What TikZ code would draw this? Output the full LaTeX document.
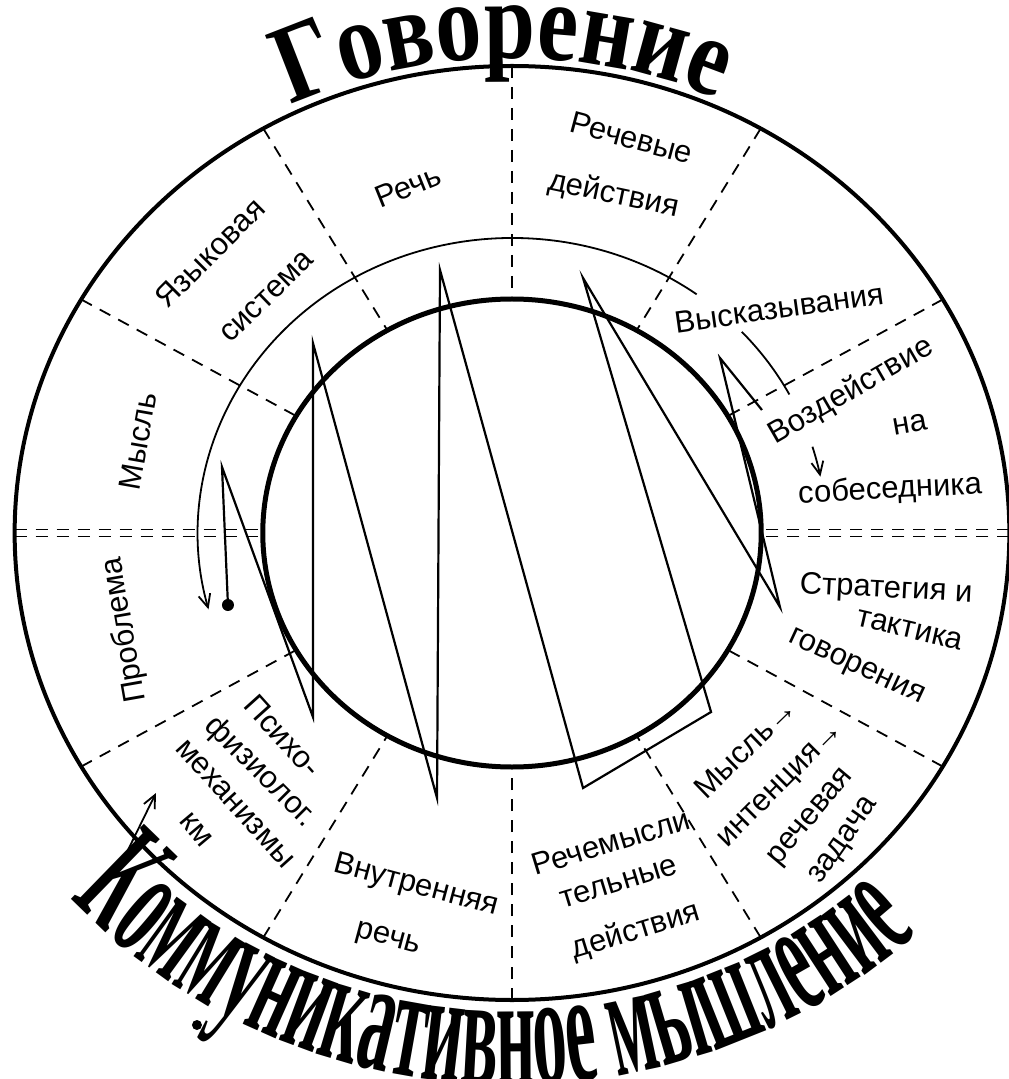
\documentclass[tikz,border=0pt]{standalone}
\usepackage{fontspec}
\setmainfont{Liberation Sans}
\newfontfamily\headfont{Liberation Serif}[FakeStretch=0.82]
\newfontfamily\footfont{Liberation Serif}[FakeStretch=0.43]
\usetikzlibrary{decorations.text,arrows.meta}
\newcommand\govfont{\fontsize{112}{112}\selectfont\headfont\bfseries}
\newcommand\kommfont{\fontsize{160}{160}\selectfont\footfont\bfseries}

\begin{document}
\begin{tikzpicture}[x=1.065pt,y=1pt,
  lbl/.style={font=\fontsize{31}{31}\selectfont,inner sep=0pt},
  divider/.style={line width=1.8pt,dash pattern=on 12pt off 9pt},
  ringline/.style={line width=1.8pt},
  zigline/.style={line width=2.2pt},
  >={Straight Barb[length=13pt,width=12pt]}]
\useasboundingbox (-512pt,-546pt) rectangle (497pt,533pt);
% rings
\draw[line width=4pt] (0,0) circle[radius=467];
\draw[line width=5pt] (0,0) circle[radius=234];
\draw[ringline,->] (54:295) arc[start angle=54,end angle=195,radius=295];
\draw[ringline] (43:295) arc[start angle=43,end angle=28,radius=295];
\draw[ringline,->] (17:295) arc[start angle=17,end angle=11,radius=295];
% sectors
\foreach \a in {30,60,90,120,150,210,240,270,300,330} \draw[divider] (\a:467) -- (\a:234);
\foreach \s in {-3.5,3.5} {
  \draw[divider] ([yshift=\s pt]180:467) -- ([yshift=\s pt]180:234);
  \draw[divider] ([yshift=\s pt]0:467) -- ([yshift=\s pt]0:234);
}
% zigzag
\coordinate (z0) at (-266.7,-72);
\coordinate (z1) at (-272.3,66);
\coordinate (z2) at (-186.9,-184);
\coordinate (z3) at (-186.9,190);
\coordinate (z4) at (-70.4,-265);
\coordinate (z5) at (-67.6,263);
\coordinate (z6) at (66.7,-255);
\coordinate (z7) at (186.9,-179);
\coordinate (z8) at (66.7,255);
\coordinate (z9) at (251.6,-74);
\coordinate (z10) at (195.3,175);
\coordinate (z11) at (234.7,123);
\draw[zigline] (z0) -- (z1) -- (z2) -- (z3) -- (z4) -- (z5) -- (z6) -- (z7) -- (z8) -- (z9) -- (z10) -- (z11);
\fill (z0) circle[radius=6pt];
\coordinate (tail) at (-360.6,-317);
\coordinate (head) at (-334.3,-260);
\draw[ringline,->] (tail) -- (head);
\fill (-295.8,-492) circle[radius=5pt];
% labels
\node[lbl,rotate=-15] (rechevye) at (112.7,395) {Речевые};
\node[lbl,rotate=-12] (dejstviya) at (95.8,338) {действия};
\node[lbl,rotate=22] (rech) at (-97.7,347) {Речь};
\node[lbl,rotate=45] (yazykovaya) at (-283.6,280) {Языковая};
\node[lbl,rotate=44] (sistema) at (-230,236) {система};
\node[lbl,rotate=80] (mysl) at (-351.2,92) {Мысль};
\node[lbl,rotate=100] (problema) at (-363.4,-97) {Проблема};
\node[lbl,rotate=-48] (psikho) at (-215,-203) {Психо-};
\node[lbl,rotate=-45] (fiziolog) at (-236.6,-239) {физиолог.};
\node[lbl,rotate=-48] (mekhanizmy) at (-260,-271) {механизмы};
\node[lbl,rotate=-50] (km) at (-296.7,-297) {км};
\node[lbl,rotate=-15] (vnutrennyaya) at (-90.1,-353) {Внутренняя};
\node[lbl,rotate=-15] (rech2) at (-116.4,-407) {речь};
\node[lbl,rotate=17] (rechemysli) at (93,-309) {Речемысли};
\node[lbl,rotate=17] (telnye) at (100.5,-350) {тельные};
\node[lbl,rotate=17] (dejstviya2) at (116.4,-398) {действия};
\node[lbl,rotate=44] (mysl2) at (219,-215) {Мысль→};
\node[lbl,rotate=45] (intenciya) at (253.5,-253) {интенция→};
\node[lbl,rotate=50] (rechevaya) at (281.7,-285) {речевая};
\node[lbl,rotate=55] (zadacha) at (312.7,-308) {задача};
\node[lbl,rotate=-25] (govoreniya) at (323,-135) {говорения};
\node[lbl,rotate=-13] (taktika) at (373.7,-97) {тактика};
\node[lbl,rotate=-3] (strategiya) at (351.2,-57) {Стратегия и};
\node[lbl,rotate=8] (vyskazyvaniya) at (250.7,225) {Высказывания};
\node[lbl,rotate=30] (vozdejstvie) at (318.3,142) {Воздействие};
\node[lbl,rotate=10] (na) at (373.7,109) {на};
\node[lbl,rotate=3] (sobesednika) at (355,43) {собеседника};
% titles
\path[decorate,decoration={text along path,text align=center,text={|\govfont|Говорение}}] (150:475) arc[start angle=150,end angle=32,radius=475];
\path[decorate,decoration={text along path,text align=center,text={|\kommfont|Коммуникативное мышление}}] (197.5:552) arc[start angle=197.5,end angle=337.5,radius=552];
\end{tikzpicture}
\end{document}
